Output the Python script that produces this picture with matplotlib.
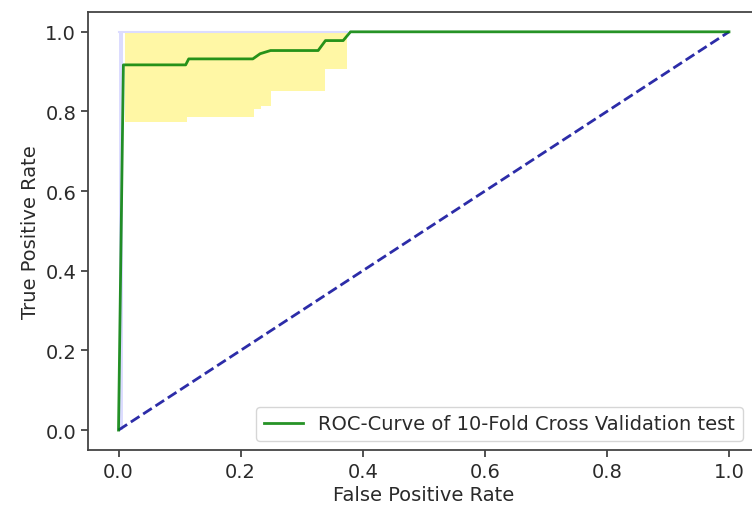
import numpy as np
import matplotlib
matplotlib.use("Agg")
import matplotlib.pyplot as plt

# Mean ROC curve (step points)
mean_fpr = [0.0, 0.008, 0.11, 0.115, 0.22, 0.232, 0.249, 0.327, 0.339, 0.368, 0.38, 1.0]
mean_tpr = [0.0, 0.917, 0.917, 0.932, 0.932, 0.945, 0.953, 0.953, 0.978, 0.978, 1.0, 1.0]

# Std band (yellow)
band_fpr = [0.01, 0.113, 0.113, 0.222, 0.222, 0.233, 0.233, 0.249, 0.249, 0.338, 0.338, 0.375, 0.375]
band_lower = [0.774, 0.774, 0.786, 0.786, 0.806, 0.806, 0.814, 0.814, 0.852, 0.852, 0.907, 0.907, 1.0]
band_upper = [1.0] * len(band_fpr)

chance = [0.0, 1.0]
legend_label = "ROC-Curve of 10-Fold Cross Validation test"

fig = plt.figure(figsize=(7.52, 5.10), dpi=100)
ax = fig.add_axes([0.117, 0.1157, 0.893, 0.859])

# thin lavender band near x=0 and along the top
ax.fill_between([0.0, 0.008], [0.0, 0.0], [1.0, 1.0], color="#dcdcff", lw=0)
ax.plot([0.0, 0.375], [1.0, 1.0], color="#dcdcff", lw=1.5)

ax.fill_between(band_fpr, band_lower, band_upper, color="#fff7a0", alpha=0.95, lw=0)
ax.plot(chance, chance, linestyle="--", color="#2c2ca8", lw=2.0)
ax.plot(mean_fpr, mean_tpr, color="green", lw=2.0, alpha=0.85, label=legend_label)

ax.set_xlim(-0.05, 1.05)
ax.set_ylim(-0.05, 1.05)
ax.set_xticks([0.0, 0.2, 0.4, 0.6, 0.8, 1.0])
ax.set_yticks([0.0, 0.2, 0.4, 0.6, 0.8, 1.0])
ax.tick_params(labelsize=14, length=5, width=1.2, colors="#333333", labelcolor="#2a2a2a")
for s in ax.spines.values():
    s.set_linewidth(1.3)
    s.set_color("#444444")

ax.set_xlabel("False Positive Rate", fontsize=14, color="#2a2a2a", labelpad=3)
ax.set_ylabel("True Positive Rate", fontsize=14, color="#2a2a2a")

leg = ax.legend(loc="lower right", bbox_to_anchor=(0.975, 0.02), borderaxespad=0,
                fontsize=14, handlelength=2.0)
for t in leg.get_texts():
    t.set_color("#2a2a2a")

fig.savefig("out.png", dpi=100)
